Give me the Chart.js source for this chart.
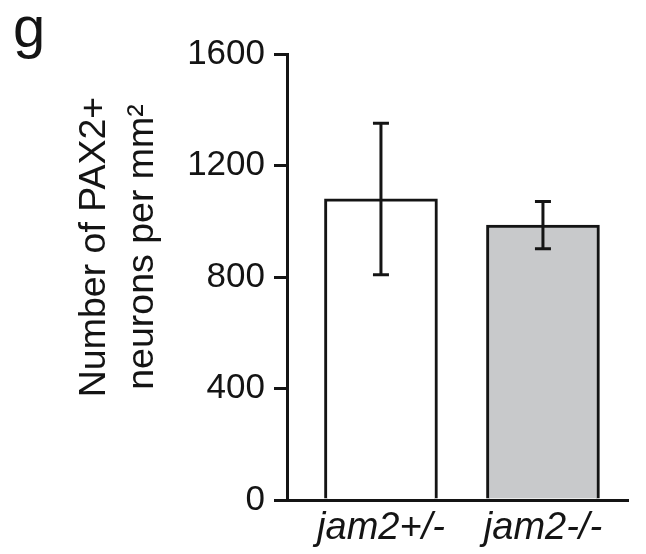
<!DOCTYPE html>
<html>
<head>
<meta charset="utf-8">
<script src="https://cdn.jsdelivr.net/npm/chart.js@4.4.1/dist/chart.umd.min.js"></script>
<style>
  html, body { margin: 0; padding: 0; background: #ffffff; }
  #wrap { width: 646px; height: 554px; }
</style>
</head>
<body>
<div id="wrap"><canvas id="c" width="646" height="554"></canvas></div>
<script>
const categories = ['jam2+/-', 'jam2-/-'];
const means = [1080, 986];
const errors = [272, 85];
const yTicks = [0, 400, 800, 1200, 1600];
const panelLabel = 'g';
const yTitle = ['Number of PAX2+', 'neurons per mm\u00B2'];
const fills = ['#ffffff', '#c8c9cb'];

const FONT = "'Liberation Sans', Arial, 'DejaVu Sans', sans-serif";
const INK = '#141414';

const errorBars = {
  id: 'errorBars',
  afterDatasetsDraw(chart) {
    const meta = chart.getDatasetMeta(0);
    const ys = chart.scales.y;
    const ctx = chart.ctx;
    ctx.save();
    ctx.strokeStyle = INK;
    ctx.lineWidth = 3;
    meta.data.forEach((bar, i) => {
      const x = bar.x;
      const top = ys.getPixelForValue(means[i] + errors[i]);
      const bot = ys.getPixelForValue(means[i] - errors[i]);
      const cap = 8;
      ctx.beginPath();
      ctx.moveTo(x, top); ctx.lineTo(x, bot);
      ctx.moveTo(x - cap, top); ctx.lineTo(x + cap, top);
      ctx.moveTo(x - cap, bot); ctx.lineTo(x + cap, bot);
      ctx.stroke();
    });
    ctx.restore();
  }
};

const textDecor = {
  id: 'textDecor',
  afterDraw(chart) {
    const ctx = chart.ctx;
    ctx.save();
    ctx.fillStyle = INK;
    ctx.font = '58px ' + FONT;
    ctx.textAlign = 'left';
    ctx.textBaseline = 'alphabetic';
    ctx.fillText(panelLabel, 13, 47);
    ctx.translate(0, 247);
    ctx.rotate(-Math.PI / 2);
    ctx.textAlign = 'center';
    ctx.font = '37.5px ' + FONT;
    ctx.fillText(yTitle[0], 0, 105);
    ctx.fillText(yTitle[1], 0, 153);
    ctx.restore();
  }
};

new Chart(document.getElementById('c'), {
  type: 'bar',
  data: {
    datasets: [{
      data: categories.map((c, i) => ({ x: i + 1, y: means[i] })),
      backgroundColor: fills,
      borderColor: INK,
      borderWidth: 3,
      barThickness: 113
    }]
  },
  options: {
    responsive: false,
    animation: false,
    devicePixelRatio: 1,
    layout: { padding: { left: 0, right: 18, top: 54, bottom: 0 } },
    plugins: { legend: { display: false }, tooltip: { enabled: false }, title: { display: false } },
    scales: {
      x: {
        type: 'linear',
        offset: false,
        min: 0.42,
        max: 2.525,
        afterFit(scale) { scale.height = 54; },
        afterBuildTicks(scale) { scale.ticks = categories.map((c, i) => ({ value: i + 1 })); },
        grid: { display: false, drawTicks: false, offset: false },
        border: { display: true, color: INK, width: 3 },
        ticks: {
          callback: (v) => categories[Math.round(v) - 1],
          font: { family: FONT, size: 38, style: 'italic' },
          color: INK,
          padding: 6,
          maxRotation: 0,
          autoSkip: false
        }
      },
      y: {
        min: 0,
        max: 1600,
        afterFit(scale) { scale.width = 287; },
        afterBuildTicks(scale) { scale.ticks = yTicks.map(v => ({ value: v })); },
        grid: { display: true, drawOnChartArea: false, drawTicks: true, tickLength: 13, color: INK, lineWidth: 3 },
        border: { display: true, color: INK, width: 3 },
        ticks: {
          callback: (v) => String(v),
          font: { family: FONT, size: 35 },
          color: INK,
          padding: 9
        }
      }
    }
  },
  plugins: [errorBars, textDecor]
});
</script>
</body>
</html>
